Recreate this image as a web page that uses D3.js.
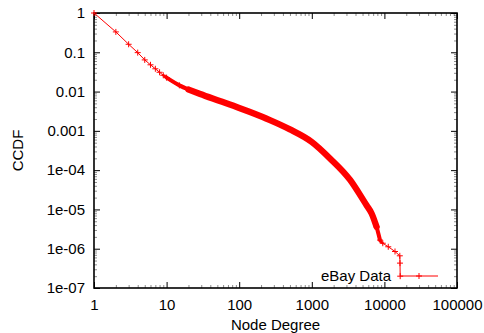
<!DOCTYPE html>
<html>
<head>
<meta charset="utf-8">
<script src="https://cdn.jsdelivr.net/npm/d3@7"></script>
<style>
  body { margin: 0; background: #fff; }
  svg text { font-family: "Liberation Sans", Arial, Helvetica, sans-serif; }
</style>
</head>
<body>
<svg id="chart" width="484" height="333"></svg>
<script>
// node degree vs CCDF
const degree = [1, 2, 3, 4, 5, 6, 7, 8, 9, 10, 15, 20, 29, 54, 100, 141, 265, 500, 1000,
  1780, 3370, 5100, 5700, 6670, 7800, 8700, 9500, 11300, 14000, 16300, 16400, 16500];
const ccdf = [1, 0.33, 0.16, 0.098, 0.064, 0.048, 0.038, 0.031, 0.026, 0.0226, 0.0144, 0.0113,
  0.0087, 0.00577, 0.00383, 0.00301, 0.00188, 0.00109, 5.22e-4, 1.99e-4, 5.63e-5, 1.75e-5,
  1.26e-5, 7.9e-6, 3.6e-6, 1.66e-6, 1.38e-6, 1.12e-6, 8.5e-7, 6.6e-7, 4.3e-7, 2.0e-7];

const xTicks = [1, 10, 100, 1000, 10000, 100000];
const xLabels = ["1", "10", "100", "1000", "10000", "100000"];
const yTicks = [1, 0.1, 0.01, 0.001, 1e-4, 1e-5, 1e-6, 1e-7];
const yLabels = ["1", "0.1", "0.01", "0.001", "1e-04", "1e-05", "1e-06", "1e-07"];
const seriesName = "eBay Data";

const points = degree.map((d, i) => ({ x: d, y: ccdf[i] }));

const svg = d3.select("#chart");
const margin = { top: 13, right: 27, bottom: 45, left: 94 };
const width = 484, height = 333;

const x = d3.scaleLog().domain([1, 1e5]).range([margin.left, width - margin.right]);
const y = d3.scaleLog().domain([1e-7, 1]).range([height - margin.bottom, margin.top]);

const minorX = [], minorY = [];
for (let e = 0; e < 5; e++) for (let m = 2; m <= 9; m++) minorX.push(m * Math.pow(10, e));
for (let e = -7; e < 0; e++) for (let m = 2; m <= 9; m++) minorY.push(m * Math.pow(10, e));

const fontSize = "15px";

function styleAxis(g) {
  g.select(".domain").remove();
  g.selectAll(".tick line").attr("stroke", "#000");
  g.selectAll("text").attr("font-size", fontSize).attr("fill", "#000")
    .style("font-family", '"Liberation Sans", Arial, sans-serif');
}

// minor ticks
[[d3.axisBottom(x), `translate(0,${y.range()[0]})`, minorX],
 [d3.axisTop(x), `translate(0,${y.range()[1]})`, minorX],
 [d3.axisLeft(y), `translate(${x.range()[0]},0)`, minorY],
 [d3.axisRight(y), `translate(${x.range()[1]},0)`, minorY]].forEach(([ax, tr, vals]) => {
  svg.append("g").attr("transform", tr)
    .call(ax.tickValues(vals).tickFormat("").tickSizeInner(-3).tickSizeOuter(0))
    .call(styleAxis)
    .selectAll(".tick line").attr("stroke-opacity", 0.45);
});

// major ticks with labels
svg.append("g").attr("transform", `translate(0,${y.range()[0]})`)
  .call(d3.axisBottom(x).tickValues(xTicks).tickFormat((d, i) => xLabels[i])
    .tickSizeInner(-6).tickSizeOuter(0).tickPadding(11))
  .call(styleAxis);
svg.append("g").attr("transform", `translate(0,${y.range()[1]})`)
  .call(d3.axisTop(x).tickValues(xTicks).tickFormat("").tickSizeInner(-6).tickSizeOuter(0))
  .call(styleAxis);
svg.append("g").attr("transform", `translate(${x.range()[0]},0)`)
  .call(d3.axisLeft(y).tickValues(yTicks).tickFormat((d, i) => yLabels[i])
    .tickSizeInner(-6).tickSizeOuter(0).tickPadding(9))
  .call(styleAxis);
svg.append("g").attr("transform", `translate(${x.range()[1]},0)`)
  .call(d3.axisRight(y).tickValues(yTicks).tickFormat("").tickSizeInner(-6).tickSizeOuter(0))
  .call(styleAxis);

// frame
svg.append("rect")
  .attr("x", x.range()[0]).attr("y", y.range()[1])
  .attr("width", x.range()[1] - x.range()[0])
  .attr("height", y.range()[0] - y.range()[1])
  .attr("fill", "none").attr("stroke", "#000").attr("stroke-width", 1.6);

// axis titles
svg.append("text")
  .attr("x", (x.range()[0] + x.range()[1]) / 2).attr("y", 330)
  .attr("text-anchor", "middle").attr("font-size", fontSize)
  .text("Node Degree");
svg.append("text")
  .attr("transform", `translate(23,${(y.range()[0] + y.range()[1]) / 2})rotate(-90)`)
  .attr("text-anchor", "middle").attr("font-size", fontSize)
  .text("CCDF");

// data
const red = "#ff0000";
const line = d3.line().x(d => x(d.x)).y(d => y(d.y));
const smooth = d3.line().x(d => x(d.x)).y(d => y(d.y)).curve(d3.curveMonotoneX);

svg.append("path").datum(points)
  .attr("d", line).attr("fill", "none").attr("stroke", red).attr("stroke-width", 1);

// where the markers pile up into a solid band: [from, to, width]
const bands = [[9, 9500, 2.5], [10, 8700, 4], [20, 7800, 6.3]];
bands.forEach(([lo, hi, w]) => {
  svg.append("path").datum(points.filter(d => d.x >= lo && d.x <= hi))
    .attr("d", smooth).attr("fill", "none").attr("stroke", red).attr("stroke-width", w)
    .attr("stroke-linejoin", "round").attr("stroke-linecap", "round");
});

function plus(g, cx, cy) {
  g.append("path")
    .attr("d", `M${cx - 3},${cy}H${cx + 3}M${cx},${cy - 3}V${cy + 3}`)
    .attr("stroke", red).attr("stroke-width", 1).attr("fill", "none");
}
const marks = svg.append("g");
points.filter(d => d.x <= 15 || d.x >= 7800).forEach(d => plus(marks, x(d.x), y(d.y)));

// key
const keyY = y.range()[0] - 12;
svg.append("text")
  .attr("x", 391).attr("y", keyY).attr("dy", "0.34em")
  .attr("text-anchor", "end").attr("font-size", fontSize)
  .text(seriesName);
svg.append("line")
  .attr("x1", 400).attr("x2", 438).attr("y1", keyY).attr("y2", keyY)
  .attr("stroke", red).attr("stroke-width", 1);
plus(svg, 419, keyY);
</script>
</body>
</html>
